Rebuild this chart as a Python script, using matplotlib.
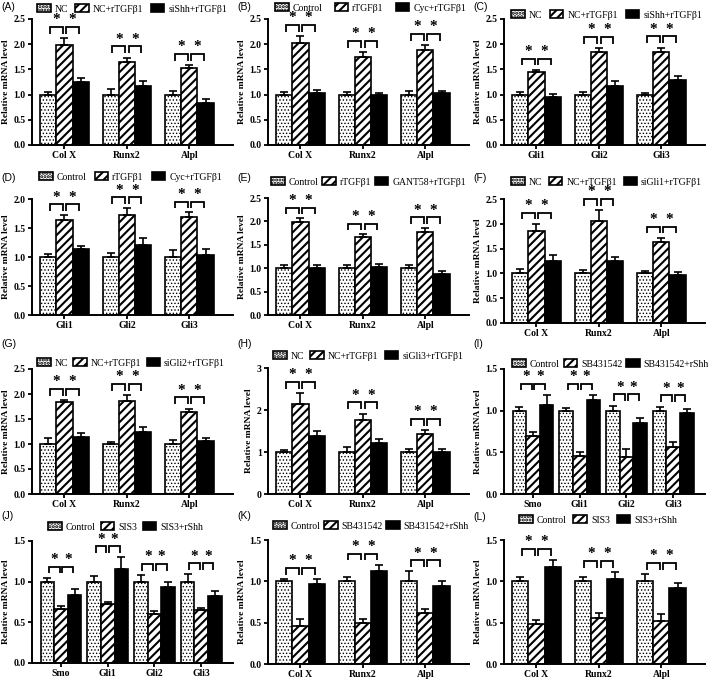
import matplotlib
matplotlib.use("Agg")
import matplotlib.pyplot as plt
import numpy as np

W, H = 709, 681

plt.rcParams["font.family"] = ["Liberation Serif", "DejaVu Serif"]
plt.rcParams["hatch.linewidth"] = 1.5
plt.rcParams["hatch.color"] = "black"

# gene sets on the x axis
bone_genes = ["Col X", "Runx2", "Alpl"]
gli_genes = ["Gli1", "Gli2", "Gli3"]
smo_gli_genes = ["Smo", "Gli1", "Gli2", "Gli3"]

# (A) siShh
A_legend = ["NC", "NC+rTGFβ1", "siShh+rTGFβ1"]
A_mean = [[1.0, 1.0, 1.0], [1.99, 1.65, 1.53], [1.25, 1.17, 0.84]]
A_err = [[0.06, 0.11, 0.08], [0.13, 0.08, 0.05], [0.08, 0.09, 0.07]]

# (B) cyclopamine
B_legend = ["Control", "rTGFβ1", "Cyc+rTGFβ1"]
B_mean = [[1.0, 1.0, 1.0], [2.02, 1.75, 1.88], [1.03, 0.99, 1.03]]
B_err = [[0.06, 0.05, 0.07], [0.14, 0.09, 0.10], [0.07, 0.05, 0.05]]

# (C) siShh, Gli
C_legend = ["NC", "NC+rTGFβ1", "siShh+rTGFβ1"]
C_mean = [[1.0, 1.0, 1.0], [1.44, 1.85, 1.85], [0.96, 1.17, 1.28]]
C_err = [[0.05, 0.06, 0.04], [0.05, 0.07, 0.08], [0.05, 0.10, 0.09]]

# (D) cyclopamine, Gli
D_legend = ["Control", "rTGFβ1", "Cyc+rTGFβ1"]
D_mean = [[1.0, 1.0, 1.0], [1.64, 1.72, 1.69], [1.13, 1.21, 1.04]]
D_err = [[0.06, 0.07, 0.12], [0.09, 0.13, 0.08], [0.06, 0.12, 0.09]]

# (E) GANT58
E_legend = ["Control", "rTGFβ1", "GANT58+rTGFβ1"]
E_mean = [[1.0, 1.0, 1.0], [1.98, 1.66, 1.78], [1.01, 1.03, 0.88]]
E_err = [[0.07, 0.07, 0.06], [0.09, 0.07, 0.08], [0.06, 0.07, 0.05]]

# (F) siGli1
F_legend = ["NC", "NC+rTGFβ1", "siGli1+rTGFβ1"]
F_mean = [[1.0, 1.0, 1.0], [1.86, 2.05, 1.64], [1.26, 1.24, 0.96]]
F_err = [[0.08, 0.06, 0.05], [0.14, 0.23, 0.08], [0.11, 0.09, 0.06]]

# (G) siGli2
G_legend = ["NC", "NC+rTGFβ1", "siGli2+rTGFβ1"]
G_mean = [[1.0, 1.0, 1.0], [1.84, 1.86, 1.64], [1.15, 1.24, 1.07]]
G_err = [[0.12, 0.04, 0.08], [0.04, 0.12, 0.07], [0.07, 0.11, 0.06]]

# (H) siGli3
H_legend = ["NC", "NC+rTGFβ1", "siGli3+rTGFβ1"]
H_mean = [[1.0, 1.0, 1.0], [2.15, 1.76, 1.42], [1.38, 1.22, 0.99]]
H_err = [[0.05, 0.12, 0.07], [0.25, 0.15, 0.10], [0.13, 0.08, 0.07]]

# (I) SB431542, Smo/Gli
I_legend = ["Control", "SB431542", "SB431542+rShh"]
I_mean = [[1.0, 1.0, 1.0, 1.0], [0.70, 0.46, 0.45, 0.56], [1.07, 1.13, 0.85, 0.97]]
I_err = [[0.05, 0.03, 0.06, 0.05], [0.05, 0.04, 0.09, 0.06], [0.12, 0.06, 0.06, 0.05]]

# (J) SIS3, Smo/Gli
J_legend = ["Control", "SIS3", "SIS3+rShh"]
J_mean = [[1.0, 1.0, 1.0, 1.0], [0.67, 0.72, 0.60, 0.65], [0.84, 1.16, 0.93, 0.82]]
J_err = [[0.05, 0.07, 0.08, 0.09], [0.03, 0.03, 0.04, 0.03], [0.07, 0.14, 0.06, 0.07]]

# (K) SB431542, bone markers
K_legend = ["Control", "SB431542", "SB431542+rShh"]
K_mean = [[1.0, 1.0, 1.0], [0.46, 0.49, 0.62], [0.97, 1.13, 0.94]]
K_err = [[0.03, 0.05, 0.12], [0.09, 0.05, 0.04], [0.06, 0.07, 0.06]]

# (L) SIS3, bone markers
L_legend = ["Control", "SIS3", "SIS3+rShh"]
L_mean = [[1.0, 1.0, 1.0], [0.48, 0.56, 0.52], [1.17, 1.03, 0.92]]
L_err = [[0.05, 0.05, 0.09], [0.05, 0.06, 0.08], [0.09, 0.08, 0.06]]

ticks_25 = [0.0, 0.5, 1.0, 1.5, 2.0, 2.5]
ticks_20 = [0.0, 0.5, 1.0, 1.5, 2.0]
ticks_15 = [0.0, 0.5, 1.0, 1.5]
ticks_3 = [0, 1, 2, 3]

# tag, genes, legend, mean, err, yticks,
# axes box px (left, right, top, bottom), legend box px (x0, x1, yc), label px (x, y)
panels = [
    ("(A)", bone_genes, A_legend, A_mean, A_err, ticks_25, (32, 233, 19, 145), (37, 227, 9), (1, 7)),
    ("(B)", bone_genes, B_legend, B_mean, B_err, ticks_25, (268, 469, 19, 145), (275, 466, 8), (237, 7)),
    ("(C)", gli_genes, C_legend, C_mean, C_err, ticks_25, (504, 705, 19, 145), (511, 702, 15), (473, 7)),
    ("(D)", gli_genes, D_legend, D_mean, D_err, ticks_20, (32, 233, 199, 315), (39, 222, 177), (1, 178)),
    ("(E)", bone_genes, E_legend, E_mean, E_err, ticks_25, (268, 469, 198, 315), (271, 466, 182), (237, 178)),
    ("(F)", bone_genes, F_legend, F_mean, F_err, ticks_25, (504, 705, 199, 323), (511, 702, 182), (473, 178)),
    ("(G)", bone_genes, G_legend, G_mean, G_err, ticks_25, (32, 233, 369, 494), (37, 225, 363), (1, 344)),
    ("(H)", bone_genes, H_legend, H_mean, H_err, ticks_3, (268, 469, 368, 494), (273, 463, 356), (237, 344)),
    ("(I)", smo_gli_genes, I_legend, I_mean, I_err, ticks_15, (504, 705, 369, 494), (512, 709, 364), (473, 344)),
    ("(J)", smo_gli_genes, J_legend, J_mean, J_err, ticks_15, (32, 233, 541, 663), (48, 203, 527), (1, 516)),
    ("(K)", bone_genes, K_legend, K_mean, K_err, ticks_15, (268, 469, 540, 664), (273, 469, 526), (237, 516)),
    ("(L)", bone_genes, L_legend, L_mean, L_err, ticks_15, (504, 705, 540, 664), (519, 677, 520), (473, 517)),
]

bar_styles = [
    dict(facecolor="white", edgecolor="black", hatch="....."),
    dict(facecolor="white", edgecolor="black", hatch="////"),
    dict(facecolor="black", edgecolor="black"),
]
hatch_lw = [0.6, 1.5, 1.0]

fig = plt.figure(figsize=(W / 100, H / 100), dpi=100)


def px_box(l, r, t, b):
    return [l / W, 1 - b / H, (r - l) / W, (b - t) / H]


def draw_panel(tag, genes, legend, mean, err, yticks, box, leg, lab):
    ax = fig.add_axes(px_box(*box))
    n = len(genes)
    ymax = yticks[-1]
    w = 0.26 if n == 3 else 0.29
    x = np.arange(n)

    for j in range(3):
        xs = x + (j - 1) * w
        bars = ax.bar(xs, mean[j], w, label=legend[j], linewidth=1.2, **bar_styles[j])
        for b in bars:
            try:
                b.set_hatch_linewidth(hatch_lw[j])
            except AttributeError:
                pass
        ax.errorbar(xs, mean[j], yerr=[np.zeros(n), err[j]], fmt="none", ecolor="black",
                    elinewidth=1.2, capsize=2.7, capthick=1.2)

    # significance brackets
    for i in range(n):
        top = max(mean[j][i] + err[j][i] for j in range(3))
        y0 = top + 0.035 * ymax
        y1 = y0 + 0.055 * ymax
        for a, b in [(0, 1), (1, 2)]:
            xa = x[i] + (a - 1) * w + 0.1 * w
            xb = x[i] + (b - 1) * w - 0.1 * w
            ax.plot([xa, xa, xb, xb], [y0, y1, y1, y0], color="black", lw=1.3,
                    clip_on=False, solid_capstyle="butt", solid_joinstyle="miter")
            ax.annotate("*", xy=((xa + xb) / 2, y1), xytext=(0, 0.5), textcoords="offset points",
                        ha="center", va="bottom", fontsize=11, fontweight="bold",
                        annotation_clip=False)

    ax.set_ylim(0, ymax)
    if n == 3:
        ax.set_xlim(-0.52, n - 1 + 0.7)
    else:
        ax.set_xlim(-0.62, n - 1 + 0.68)
    ax.set_yticks(yticks)
    if ymax == 3:
        ax.set_yticklabels([f"{t:d}" for t in yticks])
    else:
        ax.set_yticklabels([f"{t:.1f}" for t in yticks])
    ax.set_xticks(x)
    ax.set_xticklabels(genes)
    for s in ["top", "right"]:
        ax.spines[s].set_visible(False)
    for s in ["left", "bottom"]:
        ax.spines[s].set_linewidth(1.4)
    ax.tick_params(direction="out", length=3, width=1.3, labelsize=7, pad=1.5)
    for t in ax.get_xticklabels() + ax.get_yticklabels():
        t.set_fontweight("bold")
    ax.set_ylabel("Relative mRNA level", fontsize=6.8, fontweight="bold", labelpad=2.5)

    lx0, lx1, ly = leg
    ax.legend(loc="center", bbox_to_anchor=(lx0 / W, 1 - (ly + 5) / H, (lx1 - lx0) / W, 10 / H),
              bbox_transform=fig.transFigure, ncol=3, mode="expand", frameon=False,
              fontsize=7, handlelength=1.4, handleheight=0.8, handletextpad=0.4,
              columnspacing=0.3, borderpad=0, borderaxespad=0)

    fig.text(lab[0] / W, 1 - lab[1] / H, tag, family=["Liberation Sans", "DejaVu Sans"],
             fontsize=7.5, va="center", ha="left")


for p in panels:
    draw_panel(*p)

fig.savefig("out.png", dpi=100)
